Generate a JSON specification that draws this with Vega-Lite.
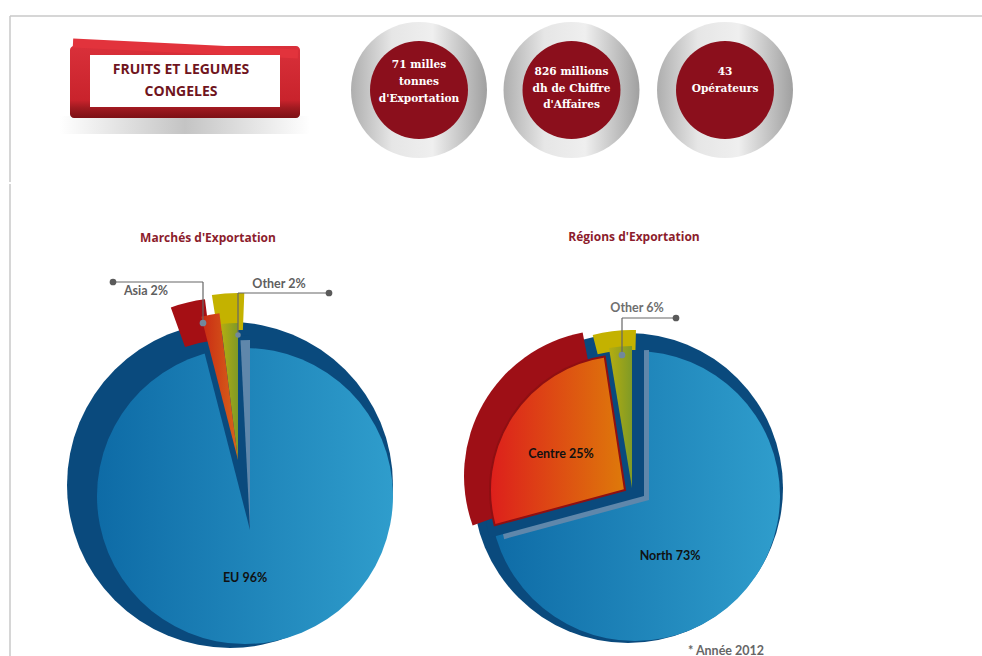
{"$schema":"https://vega.github.io/schema/vega-lite/v6.json","padding":0,"background":"white","spacing":0,"config":{"view":{"stroke":null},"axis":{"disable":true},"concat":{"spacing":0},"style":{"cell":{"stroke":null}}},
"datasets":{
"head":[{"item":"banner","label":"FRUITS ET LEGUMES|CONGELES"},{"item":"kpi1","label":"71 milles|tonnes|d'Exportation"},{"item":"kpi2","label":"826 millions|dh de Chiffre|d'Affaires"},{"item":"kpi3","label":"43|Opérateurs"}],
"markets":[{"segment":"EU","share":96,"from":0,"to":96,"label":"EU 96%"},{"segment":"Asia","share":2,"from":96,"to":98,"label":"Asia 2%"},{"segment":"Other","share":2,"from":98,"to":100,"label":"Other 2%"},{"segment":"title","label":"Marchés d'Exportation"}],
"regions":[{"segment":"North","share":73,"from":0,"to":70.8,"label":"North 73%"},{"segment":"Centre","share":25,"from":70.8,"to":97.6,"label":"Centre 25%"},{"segment":"Other","share":6,"from":97.4,"to":100,"label":"Other 6%"},{"segment":"title","label":"Régions d'Exportation"},{"segment":"note","label":"* Année 2012"}]},
"vconcat":[
{"spacing":0,"bounds":"flush","hconcat":[
{"width":343,"height":180,"data":{"name":"head"},"transform":[{"filter":"datum.item==='banner'"}],"layer":[
{"mark":{"type":"rule","stroke":"#c9c9c9","strokeWidth":1.5},"encoding":{"x":{"datum":10,"scale":{"domain":[0,343],"nice":false,"zero":false}},"x2":{"datum":982},"y":{"datum":16,"scale":{"domain":[0,180],"reverse":true,"nice":false,"zero":false}}}},
{"mark":{"type":"rule","stroke":"#c9c9c9","strokeWidth":1.5},"encoding":{"x":{"datum":10},"y":{"datum":16},"y2":{"datum":182}}},
{"mark":{"type":"rect","fill":{"gradient":"linear","x1":0,"x2":1,"y1":0,"y2":0,"stops":[{"offset":0,"color":"#ffffff"},{"offset":0.5,"color":"#c4c4c4"},{"offset":1,"color":"#ffffff"}]}},"encoding":{"x":{"datum":60},"x2":{"datum":310},"y":{"datum":116},"y2":{"datum":134}}},
{"mark":{"type":"rect","cornerRadius":4,"fill":{"gradient":"linear","x1":0,"x2":0,"y1":0,"y2":1,"stops":[{"offset":0,"color":"#d9303a"},{"offset":0.75,"color":"#c9232c"},{"offset":0.86,"color":"#a01a20"},{"offset":1,"color":"#7c1015"}]}},"encoding":{"x":{"datum":70},"x2":{"datum":300},"y":{"datum":46},"y2":{"datum":118}}},
{"mark":{"type":"rule","stroke":"#e2333c","strokeWidth":9},"encoding":{"x":{"datum":73},"y":{"datum":43},"x2":{"datum":298},"y2":{"datum":54}}},
{"mark":{"type":"rect","fill":"#ffffff"},"encoding":{"x":{"datum":90},"x2":{"datum":280},"y":{"datum":55},"y2":{"datum":107}}},
{"mark":{"type":"text","font":"Open Sans","fontWeight":"bold","fontSize":14,"lineHeight":22,"color":"#6f1420","lineBreak":"|"},"encoding":{"x":{"datum":181},"y":{"datum":70},"text":{"field":"label"}}}
]},
{"width":152,"height":180,"data":{"name":"head"},"transform":[{"filter":"datum.item==='kpi1'"}],"layer":[
{"mark":{"type":"arc","outerRadius":68,"fill":{"gradient":"linear","x1":0,"x2":1,"y1":0,"y2":0,"stops":[{"offset":0,"color":"#aeaeae"},{"offset":0.3,"color":"#e6e6e6"},{"offset":0.6,"color":"#efefef"},{"offset":1,"color":"#a0a0a0"}]}},"encoding":{"theta":{"datum":0,"scale":{"domain":[0,100],"range":[0,6.2832]}},"theta2":{"datum":100}}},
{"mark":{"type":"arc","outerRadius":49,"fill":"#8b0f1c"},"encoding":{"theta":{"datum":0},"theta2":{"datum":100}}},
{"mark":{"type":"text","font":"DejaVu Serif","fontWeight":"bold","fontSize":10.6,"lineHeight":17,"color":"#ffffff","lineBreak":"|","dy":-25},"encoding":{"text":{"field":"label"}}}
]},
{"width":153,"height":180,"data":{"name":"head"},"transform":[{"filter":"datum.item==='kpi2'"}],"layer":[
{"mark":{"type":"arc","outerRadius":68,"fill":{"gradient":"linear","x1":0,"x2":1,"y1":0,"y2":0,"stops":[{"offset":0,"color":"#aeaeae"},{"offset":0.3,"color":"#e6e6e6"},{"offset":0.6,"color":"#efefef"},{"offset":1,"color":"#a0a0a0"}]}},"encoding":{"theta":{"datum":0,"scale":{"domain":[0,100],"range":[0,6.2832]}},"theta2":{"datum":100}}},
{"mark":{"type":"arc","outerRadius":49,"fill":"#8b0f1c"},"encoding":{"theta":{"datum":0},"theta2":{"datum":100}}},
{"mark":{"type":"text","font":"DejaVu Serif","fontWeight":"bold","fontSize":10.6,"lineHeight":16.5,"color":"#ffffff","lineBreak":"|","dy":-18},"encoding":{"text":{"field":"label"}}}
]},
{"width":154,"height":180,"data":{"name":"head"},"transform":[{"filter":"datum.item==='kpi3'"}],"layer":[
{"mark":{"type":"arc","outerRadius":68,"fill":{"gradient":"linear","x1":0,"x2":1,"y1":0,"y2":0,"stops":[{"offset":0,"color":"#aeaeae"},{"offset":0.3,"color":"#e6e6e6"},{"offset":0.6,"color":"#efefef"},{"offset":1,"color":"#a0a0a0"}]}},"encoding":{"theta":{"datum":0,"scale":{"domain":[0,100],"range":[0,6.2832]}},"theta2":{"datum":100}}},
{"mark":{"type":"arc","outerRadius":49,"fill":"#8b0f1c"},"encoding":{"theta":{"datum":0},"theta2":{"datum":100}}},
{"mark":{"type":"text","font":"DejaVu Serif","fontWeight":"bold","fontSize":10.6,"lineHeight":16.5,"color":"#ffffff","lineBreak":"|","dy":-18},"encoding":{"text":{"field":"label"}}}
]}
]},
{"spacing":0,"bounds":"flush","hconcat":[
{"width":440,"height":476,"data":{"name":"markets"},"layer":[
{"transform":[{"filter":"datum.segment==='title'"}],"mark":{"type":"rule","stroke":"#c9c9c9","strokeWidth":1.5},"encoding":{"x":{"datum":-235,"scale":{"domain":[-245,195],"nice":false,"zero":false}},"y":{"datum":-312,"scale":{"domain":[-313,163],"reverse":true,"nice":false,"zero":false}},"y2":{"datum":162}}},
{"transform":[{"filter":"datum.segment==='EU'"}],"mark":{"type":"arc","outerRadius":163,"fill":"#0a4a7d"},"encoding":{"x":{"datum":-15},"y":{"datum":-11},"theta":{"datum":0,"scale":{"domain":[0,100],"range":[0,6.2832]}},"theta2":{"datum":100}}},
{"transform":[{"filter":"datum.segment==='EU'"}],"mark":{"type":"arc","outerRadius":148,"fill":{"gradient":"linear","x1":0,"x2":1,"y1":0,"y2":0,"stops":[{"offset":0,"color":"#0e6ba6"},{"offset":1,"color":"#2f9dcc"}]}},"encoding":{"x":{"datum":0},"y":{"datum":0},"theta":{"datum":0},"theta2":{"datum":100}}},
{"transform":[{"filter":"datum.segment==='EU'"}],"mark":{"type":"arc","outerRadius":195,"fill":"#0a4a7d"},"encoding":{"x":{"datum":5},"y":{"datum":34},"theta":{"field":"to","type":"quantitative"},"theta2":{"datum":100}}},
{"transform":[{"filter":"datum.segment==='EU'"}],"mark":{"type":"arc","outerRadius":190,"fill":"#5f87ab"},"encoding":{"x":{"datum":5},"y":{"datum":34},"theta":{"datum":99.2},"theta2":{"datum":100}}},
{"transform":[{"filter":"datum.segment==='Other'"}],"mark":{"type":"arc","innerRadius":130,"outerRadius":167,"fill":"#c4b200"},"encoding":{"x":{"datum":-7},"y":{"datum":-36},"theta":{"datum":97.5},"theta2":{"datum":100.6}}},
{"transform":[{"filter":"datum.segment==='Other'"}],"mark":{"type":"arc","outerRadius":137,"fill":{"gradient":"linear","x1":0,"x2":1,"y1":0,"y2":0,"stops":[{"offset":0,"color":"#b5ad10"},{"offset":1,"color":"#7f9a26"}]}},"encoding":{"x":{"datum":-7},"y":{"datum":-36},"theta":{"field":"from","type":"quantitative"},"theta2":{"field":"to"}}},
{"transform":[{"filter":"datum.segment==='Asia'"}],"mark":{"type":"arc","innerRadius":118,"outerRadius":160,"fill":"#a50f14"},"encoding":{"x":{"datum":-20},"y":{"datum":-38},"theta":{"datum":94.5},"theta2":{"datum":98}}},
{"transform":[{"filter":"datum.segment==='Asia'"}],"mark":{"type":"arc","outerRadius":148,"fill":{"gradient":"linear","x1":0,"x2":1,"y1":0,"y2":0,"stops":[{"offset":0,"color":"#c92a14"},{"offset":1,"color":"#d8641a"}]}},"encoding":{"x":{"datum":-7},"y":{"datum":-36},"theta":{"field":"from","type":"quantitative"},"theta2":{"field":"to"}}},
{"transform":[{"filter":"datum.segment==='Asia'"}],"mark":{"type":"rule","stroke":"#666666","strokeWidth":1.2},"encoding":{"x":{"datum":-132},"x2":{"datum":-42},"y":{"datum":-214}}},
{"transform":[{"filter":"datum.segment==='Asia'"}],"mark":{"type":"rule","stroke":"#666666","strokeWidth":1.2},"encoding":{"x":{"datum":-42},"y":{"datum":-214},"y2":{"datum":-173}}},
{"transform":[{"filter":"datum.segment==='Other'"}],"mark":{"type":"rule","stroke":"#666666","strokeWidth":1.2},"encoding":{"x":{"datum":-7},"x2":{"datum":84},"y":{"datum":-203}}},
{"transform":[{"filter":"datum.segment==='Other'"}],"mark":{"type":"rule","stroke":"#666666","strokeWidth":1.2},"encoding":{"x":{"datum":-7},"y":{"datum":-203},"y2":{"datum":-161}}},
{"transform":[{"filter":"datum.segment==='Asia'"}],"mark":{"type":"point","filled":true,"size":45,"color":"#5a5a5a","opacity":1},"encoding":{"x":{"datum":-132},"y":{"datum":-214}}},
{"transform":[{"filter":"datum.segment==='Asia'"}],"mark":{"type":"point","filled":true,"size":45,"color":"#71889c","opacity":1},"encoding":{"x":{"datum":-42},"y":{"datum":-173}}},
{"transform":[{"filter":"datum.segment==='Other'"}],"mark":{"type":"point","filled":true,"size":45,"color":"#5a5a5a","opacity":1},"encoding":{"x":{"datum":84},"y":{"datum":-203}}},
{"transform":[{"filter":"datum.segment==='Other'"}],"mark":{"type":"point","filled":true,"size":30,"color":"#71889c","opacity":1},"encoding":{"x":{"datum":-7},"y":{"datum":-161}}},
{"transform":[{"filter":"datum.segment==='Asia'"}],"mark":{"type":"text","font":"Lato","fontWeight":"bold","fontSize":12.5,"color":"#5f5f5f"},"encoding":{"x":{"datum":-99},"y":{"datum":-205},"text":{"field":"label"}}},
{"transform":[{"filter":"datum.segment==='Other'"}],"mark":{"type":"text","font":"Lato","fontWeight":"bold","fontSize":12.5,"color":"#5f5f5f"},"encoding":{"x":{"datum":34},"y":{"datum":-212},"text":{"field":"label"}}},
{"transform":[{"filter":"datum.segment==='EU'"}],"mark":{"type":"text","font":"Lato","fontWeight":"bold","fontSize":12.5,"color":"#111111"},"encoding":{"x":{"datum":0},"y":{"datum":82},"text":{"field":"label"}}},
{"transform":[{"filter":"datum.segment==='title'"}],"mark":{"type":"text","font":"Open Sans","fontWeight":"bold","fontSize":12,"color":"#8c1c2c"},"encoding":{"x":{"datum":-37},"y":{"datum":-258},"text":{"field":"label"}}}
]},
{"width":542,"height":476,"data":{"name":"regions"},"layer":[
{"transform":[{"filter":"datum.segment==='North'"}],"mark":{"type":"arc","outerRadius":155,"fill":"#0a4a7d"},"encoding":{"x":{"datum":-7,"scale":{"domain":[-195,347],"nice":false,"zero":false}},"y":{"datum":-8,"scale":{"domain":[-313,163],"reverse":true,"nice":false,"zero":false}},"theta":{"datum":0,"scale":{"domain":[0,100],"range":[0,6.2832]}},"theta2":{"datum":100}}},
{"transform":[{"filter":"datum.segment==='North'"}],"mark":{"type":"arc","outerRadius":145,"fill":{"gradient":"linear","x1":0,"x2":1,"y1":0,"y2":0,"stops":[{"offset":0,"color":"#0e6ba6"},{"offset":1,"color":"#2f9dcc"}]}},"encoding":{"x":{"datum":0},"y":{"datum":0},"theta":{"datum":0},"theta2":{"datum":100}}},
{"transform":[{"filter":"datum.segment==='North'"}],"mark":{"type":"arc","outerRadius":150,"fill":"#5f87ab"},"encoding":{"x":{"datum":14},"y":{"datum":4},"theta":{"field":"to","type":"quantitative"},"theta2":{"datum":100}}},
{"transform":[{"filter":"datum.segment==='North'"}],"mark":{"type":"arc","outerRadius":160,"fill":"#0a4a7d"},"encoding":{"x":{"datum":9},"y":{"datum":0},"theta":{"field":"to","type":"quantitative"},"theta2":{"datum":100}}},
{"transform":[{"filter":"datum.segment==='Other'"}],"mark":{"type":"arc","innerRadius":138,"outerRadius":158,"fill":"#c4b200"},"encoding":{"x":{"datum":-3},"y":{"datum":-8},"theta":{"datum":96},"theta2":{"datum":100.4}}},
{"transform":[{"filter":"datum.segment==='Other'"}],"mark":{"type":"arc","outerRadius":142,"fill":{"gradient":"linear","x1":0,"x2":1,"y1":0,"y2":0,"stops":[{"offset":0,"color":"#b5ad10"},{"offset":1,"color":"#7f9a26"}]}},"encoding":{"x":{"datum":-3},"y":{"datum":-8},"theta":{"field":"from","type":"quantitative"},"theta2":{"field":"to"}}},
{"transform":[{"filter":"datum.segment==='Centre'"}],"mark":{"type":"arc","outerRadius":146,"fill":"#9e0f16"},"encoding":{"x":{"datum":-25},"y":{"datum":-20},"theta":{"datum":69.5},"theta2":{"datum":97}}},
{"transform":[{"filter":"datum.segment==='Centre'"}],"mark":{"type":"arc","outerRadius":135,"stroke":"#8f0f12","strokeWidth":2,"fill":{"gradient":"linear","x1":0,"x2":1,"y1":0,"y2":0,"stops":[{"offset":0,"color":"#dd1f1c"},{"offset":1,"color":"#de7a0a"}]}},"encoding":{"x":{"datum":-10},"y":{"datum":-6},"theta":{"field":"from","type":"quantitative"},"theta2":{"field":"to"}}},
{"transform":[{"filter":"datum.segment==='Other'"}],"mark":{"type":"rule","stroke":"#666666","strokeWidth":1.2},"encoding":{"x":{"datum":-13},"x2":{"datum":41},"y":{"datum":-178}}},
{"transform":[{"filter":"datum.segment==='Other'"}],"mark":{"type":"rule","stroke":"#666666","strokeWidth":1.2},"encoding":{"x":{"datum":-13},"y":{"datum":-178},"y2":{"datum":-141}}},
{"transform":[{"filter":"datum.segment==='Other'"}],"mark":{"type":"point","filled":true,"size":45,"color":"#5a5a5a","opacity":1},"encoding":{"x":{"datum":41},"y":{"datum":-178}}},
{"transform":[{"filter":"datum.segment==='Other'"}],"mark":{"type":"point","filled":true,"size":45,"color":"#71889c","opacity":1},"encoding":{"x":{"datum":-13},"y":{"datum":-141}}},
{"transform":[{"filter":"datum.segment==='Other'"}],"mark":{"type":"text","font":"Lato","fontWeight":"bold","fontSize":12.5,"color":"#6f6f6f"},"encoding":{"x":{"datum":2},"y":{"datum":-188},"text":{"field":"label"}}},
{"transform":[{"filter":"datum.segment==='Centre'"}],"mark":{"type":"text","font":"Lato","fontWeight":"bold","fontSize":12.5,"color":"#111111"},"encoding":{"x":{"datum":-74},"y":{"datum":-42},"text":{"field":"label"}}},
{"transform":[{"filter":"datum.segment==='North'"}],"mark":{"type":"text","font":"Lato","fontWeight":"bold","fontSize":12.5,"color":"#111111"},"encoding":{"x":{"datum":35},"y":{"datum":60},"text":{"field":"label"}}},
{"transform":[{"filter":"datum.segment==='title'"}],"mark":{"type":"text","font":"Open Sans","fontWeight":"bold","fontSize":12,"color":"#8c1c2c"},"encoding":{"x":{"datum":-1},"y":{"datum":-259},"text":{"field":"label"}}},
{"transform":[{"filter":"datum.segment==='note'"}],"mark":{"type":"text","font":"Lato","fontWeight":"bold","fontSize":12.5,"color":"#666666","baseline":"bottom"},"encoding":{"x":{"datum":91},"y":{"datum":161.5},"text":{"field":"label"}}}
]}
]}
]}
